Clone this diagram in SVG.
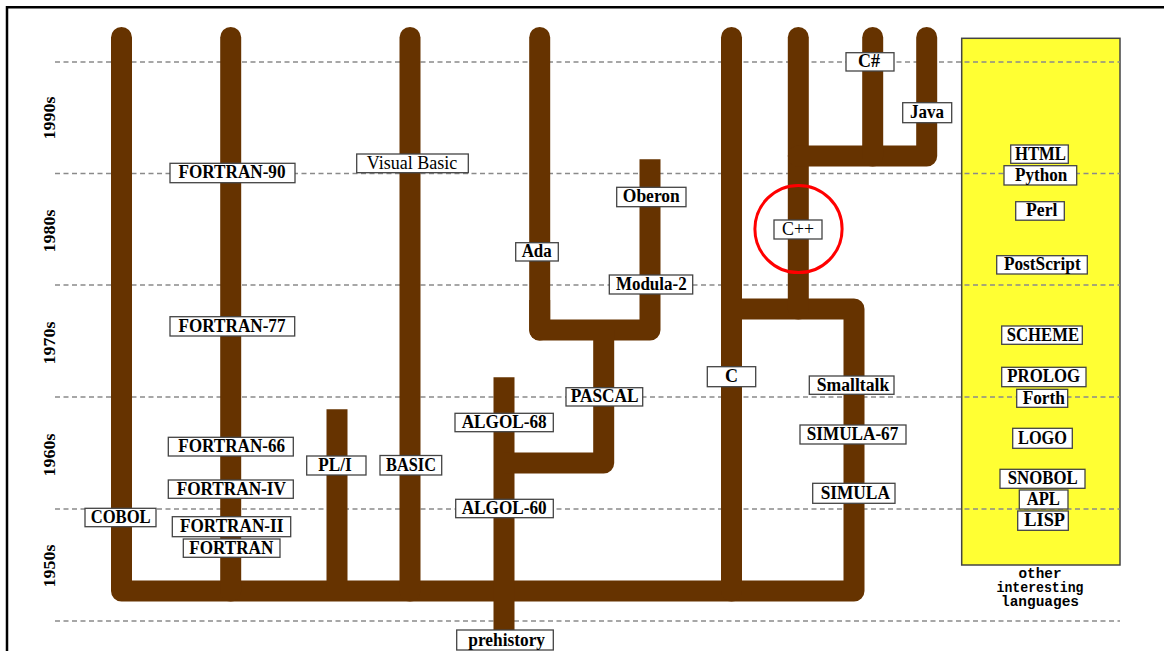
<svg xmlns="http://www.w3.org/2000/svg" width="1164" height="651" viewBox="0 0 1164 651">
<style>
.lbl rect{fill:#fff;stroke:#444;stroke-width:1.3}
.lbl text{font-family:"Liberation Serif","Times New Roman",serif;font-size:18px;font-weight:bold;fill:#000;text-anchor:middle}
.lbl text.reg{font-weight:normal}
.tr{fill:none;stroke:#663300;stroke-width:21;stroke-linejoin:round}
.rc{stroke-linecap:round}
.dash{stroke:#8a8a8a;stroke-width:1.3;stroke-dasharray:5 3.5;fill:none}
.dec{font-family:"Liberation Serif","Times New Roman",serif;font-size:17px;font-weight:bold;text-anchor:middle;fill:#000}
.oth{font-family:"Liberation Mono","Courier New",monospace;font-size:14.5px;font-weight:bold;text-anchor:middle;fill:#000}
</style>
<rect width="1164" height="651" fill="#fff"/>
<path d="M7,651 V7.3 H1164" fill="none" stroke="#000" stroke-width="2.5"/>
<g id="other-panel">
<rect x="961.7" y="38.3" width="158.3" height="526.7" fill="#ffff33" stroke="#444" stroke-width="1.5"/>
<text class="oth" x="1040" y="578" textLength="43" lengthAdjust="spacingAndGlyphs">other</text>
<text class="oth" x="1040" y="592" textLength="87" lengthAdjust="spacingAndGlyphs">interesting</text>
<text class="oth" x="1040" y="606" textLength="78" lengthAdjust="spacingAndGlyphs">languages</text>
</g>
<g id="gridlines">
<line class="dash" x1="55" y1="62" x2="1120" y2="62"/>
<line class="dash" x1="55" y1="173.5" x2="1120" y2="173.5"/>
<line class="dash" x1="55" y1="285" x2="1120" y2="285"/>
<line class="dash" x1="55" y1="397" x2="1120" y2="397"/>
<line class="dash" x1="55" y1="509" x2="1120" y2="509"/>
<line class="dash" x1="55" y1="621" x2="1120" y2="621"/>
</g>
<g id="decades">
<text class="dec" transform="translate(55,118) rotate(-90)" textLength="43" lengthAdjust="spacingAndGlyphs">1990s</text>
<text class="dec" transform="translate(55,231) rotate(-90)" textLength="43" lengthAdjust="spacingAndGlyphs">1980s</text>
<text class="dec" transform="translate(55,343) rotate(-90)" textLength="43" lengthAdjust="spacingAndGlyphs">1970s</text>
<text class="dec" transform="translate(55,455) rotate(-90)" textLength="43" lengthAdjust="spacingAndGlyphs">1960s</text>
<text class="dec" transform="translate(55,566) rotate(-90)" textLength="43" lengthAdjust="spacingAndGlyphs">1950s</text>
</g>
<g id="connectors">
<path class="tr rc" d="M121.5,37.5 V591 H854 V309 H731.5"/>
<path class="tr rc" d="M230.7,37.5 V591"/>
<path class="tr" d="M337,409.3 V591"/>
<path class="tr rc" d="M410,37.5 V591"/>
<path class="tr" d="M504,377.3 V630"/>
<path class="tr rc" d="M539.7,37.5 V330"/>
<path class="tr" d="M539.7,300 V330 H650 V159.3"/>
<path class="tr" d="M603.7,330 V463 H504"/>
<path class="tr rc" d="M731.5,37.5 V591"/>
<path class="tr rc" d="M798.3,37.5 V309"/>
<path class="tr rc" d="M926.7,37.5 V156 H798.3"/>
<path class="tr rc" d="M872.7,37.5 V156"/>
</g>
<g id="n-fortran90" class="lbl"><rect x="170" y="163.3" width="125" height="19.4"/><text x="232" y="178.3" textLength="107" lengthAdjust="spacingAndGlyphs">FORTRAN-90</text></g>
<g id="n-visualbasic" class="lbl"><rect x="356.7" y="154" width="111.6" height="18.7"/><text class="reg" x="412" y="168.7" textLength="90.6" lengthAdjust="spacingAndGlyphs">Visual Basic</text></g>
<g id="n-oberon" class="lbl"><rect x="616.7" y="187.3" width="69.3" height="19.4"/><text x="651.3" y="202.3" textLength="57" lengthAdjust="spacingAndGlyphs">Oberon</text></g>
<g id="n-csharp" class="lbl"><rect x="846" y="52.7" width="48" height="18.3"/><text x="869" y="67.3" textLength="22" lengthAdjust="spacingAndGlyphs">C#</text></g>
<g id="n-java" class="lbl"><rect x="902.7" y="102.7" width="49" height="20"/><text x="927" y="118.2" textLength="34" lengthAdjust="spacingAndGlyphs">Java</text></g>
<g id="n-cpp" class="lbl"><rect x="774" y="220" width="48" height="19"/><text class="reg" x="798" y="235" textLength="32" lengthAdjust="spacingAndGlyphs">C++</text></g>
<g id="n-ada" class="lbl"><rect x="515.7" y="242.7" width="42.6" height="18.3"/><text x="536.7" y="257.3" textLength="30" lengthAdjust="spacingAndGlyphs">Ada</text></g>
<g id="n-modula2" class="lbl"><rect x="609.3" y="275" width="83.4" height="19"/><text x="651.3" y="290" textLength="70.7" lengthAdjust="spacingAndGlyphs">Modula-2</text></g>
<g id="n-fortran77" class="lbl"><rect x="170" y="316.7" width="124.7" height="19.3"/><text x="232" y="331.7" textLength="107" lengthAdjust="spacingAndGlyphs">FORTRAN-77</text></g>
<g id="n-c" class="lbl"><rect x="707.3" y="366.7" width="48.4" height="20"/><text x="731.5" y="382.2">C</text></g>
<g id="n-pascal" class="lbl"><rect x="566" y="387.7" width="76.7" height="18.3"/><text x="604.7" y="402.3" textLength="68" lengthAdjust="spacingAndGlyphs">PASCAL</text></g>
<g id="n-algol68" class="lbl"><rect x="455" y="413.3" width="98.3" height="18.4"/><text x="504.2" y="428" textLength="85" lengthAdjust="spacingAndGlyphs">ALGOL-68</text></g>
<g id="n-smalltalk" class="lbl"><rect x="809.3" y="376" width="84.7" height="18.3"/><text x="853" y="390.6" textLength="72.6" lengthAdjust="spacingAndGlyphs">Smalltalk</text></g>
<g id="n-simula67" class="lbl"><rect x="800" y="425" width="106" height="19"/><text x="852.5" y="440" textLength="91.6" lengthAdjust="spacingAndGlyphs">SIMULA-67</text></g>
<g id="n-simula" class="lbl"><rect x="812.7" y="483.3" width="82.3" height="20"/><text x="855.3" y="498.8" textLength="69.3" lengthAdjust="spacingAndGlyphs">SIMULA</text></g>
<g id="n-fortran66" class="lbl"><rect x="168.3" y="437.3" width="125" height="18.7"/><text x="231.7" y="452" textLength="106.7" lengthAdjust="spacingAndGlyphs">FORTRAN-66</text></g>
<g id="n-pli" class="lbl"><rect x="306.7" y="456" width="59.3" height="19"/><text x="335" y="471" textLength="33.4" lengthAdjust="spacingAndGlyphs">PL/I</text></g>
<g id="n-basic" class="lbl"><rect x="380" y="455.5" width="61.7" height="19.5"/><text x="411" y="470.6" textLength="50" lengthAdjust="spacingAndGlyphs">BASIC</text></g>
<g id="n-fortraniv" class="lbl"><rect x="168.3" y="480" width="125" height="18.3"/><text x="231.3" y="494.6" textLength="109.3" lengthAdjust="spacingAndGlyphs">FORTRAN-IV</text></g>
<g id="n-cobol" class="lbl"><rect x="85" y="508.3" width="71" height="18.4"/><text x="120.7" y="523" textLength="60" lengthAdjust="spacingAndGlyphs">COBOL</text></g>
<g id="n-fortranii" class="lbl"><rect x="172.3" y="516.7" width="118.4" height="20"/><text x="231.7" y="532.2" textLength="103.3" lengthAdjust="spacingAndGlyphs">FORTRAN-II</text></g>
<g id="n-fortran" class="lbl"><rect x="183.3" y="539" width="96.7" height="18.3"/><text x="231.3" y="553.6" textLength="84" lengthAdjust="spacingAndGlyphs">FORTRAN</text></g>
<g id="n-algol60" class="lbl"><rect x="455.7" y="499.3" width="97.6" height="18.4"/><text x="504.2" y="514" textLength="85" lengthAdjust="spacingAndGlyphs">ALGOL-60</text></g>
<g id="n-prehistory" class="lbl"><rect x="456.7" y="630" width="96.6" height="20"/><text x="506.7" y="645.5" textLength="76.7" lengthAdjust="spacingAndGlyphs">prehistory</text></g>
<g id="n-html" class="lbl"><rect x="1010.7" y="145" width="57.6" height="18.3"/><text x="1040.5" y="159.6" textLength="51" lengthAdjust="spacingAndGlyphs">HTML</text></g>
<g id="n-python" class="lbl"><rect x="1004" y="165.7" width="72.7" height="19.3"/><text x="1041.2" y="180.7" textLength="52.3" lengthAdjust="spacingAndGlyphs">Python</text></g>
<g id="n-perl" class="lbl"><rect x="1015.7" y="201.7" width="48.6" height="18.5"/><text x="1041.7" y="216.4" textLength="31.3" lengthAdjust="spacingAndGlyphs">Perl</text></g>
<g id="n-postscript" class="lbl"><rect x="996.7" y="255.7" width="90.6" height="18.3"/><text x="1042.3" y="270.3" textLength="76.7" lengthAdjust="spacingAndGlyphs">PostScript</text></g>
<g id="n-scheme" class="lbl"><rect x="1001.7" y="326" width="80.6" height="18.3"/><text x="1042.9" y="340.6" textLength="72.3" lengthAdjust="spacingAndGlyphs">SCHEME</text></g>
<g id="n-prolog" class="lbl"><rect x="1001.7" y="367.3" width="84.3" height="19.4"/><text x="1043.7" y="382.3" textLength="72.7" lengthAdjust="spacingAndGlyphs">PROLOG</text></g>
<g id="n-forth" class="lbl"><rect x="1016.7" y="389.3" width="51" height="18"/><text x="1043.8" y="403.8" textLength="42.3" lengthAdjust="spacingAndGlyphs">Forth</text></g>
<g id="n-logo" class="lbl"><rect x="1012.7" y="428.3" width="59.6" height="20"/><text x="1042.5" y="443.8" textLength="49" lengthAdjust="spacingAndGlyphs">LOGO</text></g>
<g id="n-snobol" class="lbl"><rect x="1000" y="469.3" width="85" height="19"/><text x="1042.7" y="484.3" textLength="70" lengthAdjust="spacingAndGlyphs">SNOBOL</text></g>
<g id="n-apl" class="lbl"><rect x="1019.3" y="490" width="48.7" height="19"/><text x="1043.3" y="505" textLength="33.3" lengthAdjust="spacingAndGlyphs">APL</text></g>
<g id="n-lisp" class="lbl"><rect x="1017.7" y="511" width="50.6" height="19.3"/><text x="1044.7" y="526" textLength="40.7" lengthAdjust="spacingAndGlyphs">LISP</text></g>
<g id="highlight">
<circle cx="798.5" cy="229" r="43.6" fill="none" stroke="#ff0000" stroke-width="3"/>
</g>
</svg>
